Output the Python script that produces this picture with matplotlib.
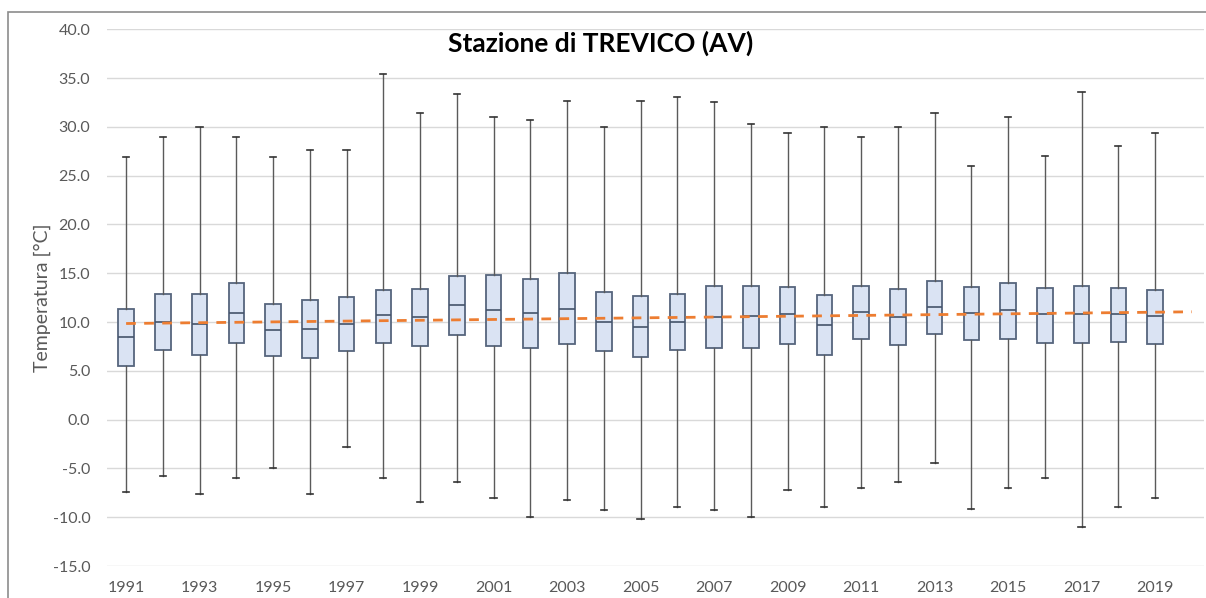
import matplotlib
matplotlib.use("Agg")
import matplotlib.pyplot as plt
from matplotlib.patches import Rectangle

plt.rcParams["font.family"] = ["Lato", "DejaVu Sans"]

# annual temperature distribution (min, Q1, median, Q3, max) per year
years = list(range(1991, 2020))
t_min = [-7.4, -5.8, -7.6, -6.0, -5.0, -7.6, -2.8, -6.0, -8.4, -6.4,
         -8.0, -10.0, -8.2, -9.3, -10.2, -9.0, -9.3, -10.0, -7.2, -9.0,
         -7.0, -6.4, -4.4, -9.2, -7.0, -6.0, -11.0, -9.0, -8.0]
t_q1 = [5.5, 7.1, 6.6, 7.9, 6.5, 6.3, 7.0, 7.9, 7.5, 8.7,
        7.5, 7.3, 7.8, 7.0, 6.4, 7.1, 7.3, 7.3, 7.8, 6.6,
        8.3, 7.6, 8.8, 8.2, 8.3, 7.9, 7.9, 8.0, 7.8]
t_med = [8.5, 10.0, 9.8, 10.9, 9.2, 9.3, 9.8, 10.7, 10.5, 11.7,
         11.2, 10.9, 11.3, 10.0, 9.5, 10.0, 10.5, 10.6, 10.8, 9.7,
         11.0, 10.5, 11.5, 10.9, 11.2, 10.8, 10.8, 10.8, 10.6]
t_q3 = [11.3, 12.9, 12.9, 14.0, 11.9, 12.3, 12.6, 13.3, 13.4, 14.7,
        14.8, 14.4, 15.0, 13.1, 12.7, 12.9, 13.7, 13.7, 13.6, 12.8,
        13.7, 13.4, 14.2, 13.6, 14.0, 13.5, 13.7, 13.5, 13.3]
t_max = [26.9, 29.0, 30.0, 29.0, 26.9, 27.6, 27.6, 35.4, 31.4, 33.4,
         31.0, 30.7, 32.7, 30.0, 32.7, 33.1, 32.5, 30.3, 29.4, 30.0,
         29.0, 30.0, 31.4, 26.0, 31.0, 27.0, 33.6, 28.0, 29.4]

# linear trend (endpoints as drawn)
trend_years = [1991, 2020]
trend_vals = [9.85, 11.05]

y_ticks = [-15, -10, -5, 0, 5, 10, 15, 20, 25, 30, 35, 40]
x_ticks = years[::2]

W, H = 1206, 598
fig = plt.figure(figsize=(W / 100, H / 100), dpi=100)
ax = fig.add_axes([107 / W, 1 - 566 / H, (1204 - 107) / W, (566 - 29.3) / H])

stats = [dict(whislo=lo, q1=a, med=m, q3=b, whishi=hi, label=str(y))
         for y, lo, a, m, b, hi in zip(years, t_min, t_q1, t_med, t_q3, t_max)]
ax.bxp(stats, positions=years, widths=0.42, capwidths=0.17, showfliers=False,
       patch_artist=True, manage_ticks=False,
       boxprops=dict(facecolor="#dae3f3", edgecolor="#56657d", linewidth=1.3),
       medianprops=dict(color="#44546a", linewidth=1.2),
       whiskerprops=dict(color="#5a5a5a", linewidth=1.0),
       capprops=dict(color="#333333", linewidth=1.2))

ax.plot(trend_years, trend_vals, color="#ed7d31", lw=2.0, ls=(0, (3.5, 3)), zorder=5)

ax.set_xlim(1990.48, 2020.33)
ax.set_ylim(-15, 40)
ax.set_yticks(y_ticks)
ax.set_yticklabels([f"{v:.1f}" for v in y_ticks])
ax.set_xticks(x_ticks)
ax.set_xticklabels([str(x) for x in x_ticks])
ax.tick_params(length=0, labelsize=11.5, labelcolor="#595959")
ax.tick_params(axis="x", pad=11)
ax.tick_params(axis="y", pad=12)
ax.grid(axis="y", color="#d9d9d9", lw=1.0)
ax.set_axisbelow(True)
for s in ax.spines.values():
    s.set_visible(False)

ax.set_ylabel("Temperatura [°C]", fontsize=14, color="#595959", labelpad=1)

fig.text(601 / W, 1 - 43 / H, "Stazione di TREVICO (AV)", ha="center", va="center",
         fontsize=19, fontweight="bold", color="#000000")

fig.add_artist(Rectangle((8 / W, -0.2), 1.2, 1.2 - 12 / H, transform=fig.transFigure,
                         fill=False, ec="#8c8c8c", lw=1.2, clip_on=False))

fig.savefig("out.png", dpi=100)
